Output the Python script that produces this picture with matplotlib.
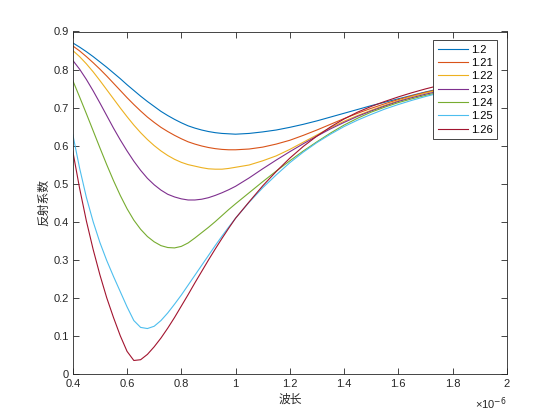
import matplotlib
matplotlib.use("Agg")
import matplotlib.pyplot as plt
from matplotlib.ticker import FuncFormatter

plt.rcParams["font.family"] = ["Liberation Sans", "Noto Sans CJK SC", "DejaVu Sans"]

# wavelength in um (axis is x 1e-6)
wavelength = [0.400, 0.425, 0.450, 0.475, 0.500, 0.525, 0.550, 0.575, 0.600, 0.625,
              0.650, 0.675, 0.700, 0.725, 0.750, 0.775, 0.800, 0.825, 0.850, 0.875,
              0.900, 0.925, 0.950, 0.975, 1.000, 1.050, 1.100, 1.150, 1.200, 1.250,
              1.300, 1.350, 1.400, 1.450, 1.500, 1.550, 1.600, 1.650, 1.700, 1.750]

labels = ["1.2", "1.21", "1.22", "1.23", "1.24", "1.25", "1.26"]

r_120 = [0.870, 0.859, 0.847, 0.834, 0.820, 0.806, 0.791, 0.776, 0.760, 0.745,
         0.730, 0.716, 0.703, 0.690, 0.679, 0.669, 0.660, 0.652, 0.646, 0.641,
         0.637, 0.634, 0.632, 0.631, 0.630, 0.632, 0.636, 0.641, 0.648, 0.656,
         0.665, 0.675, 0.685, 0.695, 0.705, 0.714, 0.723, 0.732, 0.741, 0.749]
r_121 = [0.862, 0.849, 0.834, 0.818, 0.801, 0.783, 0.764, 0.745, 0.726, 0.708,
         0.691, 0.675, 0.661, 0.648, 0.637, 0.627, 0.618, 0.610, 0.604, 0.599,
         0.595, 0.592, 0.590, 0.589, 0.589, 0.591, 0.596, 0.604, 0.614, 0.627,
         0.641, 0.656, 0.671, 0.685, 0.698, 0.710, 0.721, 0.731, 0.740, 0.748]
r_122 = [0.850, 0.834, 0.815, 0.794, 0.771, 0.747, 0.723, 0.699, 0.676, 0.654,
         0.634, 0.616, 0.600, 0.586, 0.574, 0.564, 0.556, 0.550, 0.546, 0.542,
         0.539, 0.538, 0.538, 0.540, 0.543, 0.549, 0.560, 0.573, 0.590, 0.609,
         0.628, 0.647, 0.664, 0.679, 0.693, 0.706, 0.718, 0.729, 0.738, 0.746]
r_123 = [0.824, 0.801, 0.774, 0.744, 0.712, 0.679, 0.646, 0.615, 0.586, 0.559,
         0.535, 0.514, 0.497, 0.483, 0.472, 0.465, 0.460, 0.457, 0.457, 0.459,
         0.463, 0.469, 0.476, 0.484, 0.493, 0.515, 0.539, 0.562, 0.584, 0.605,
         0.625, 0.644, 0.661, 0.677, 0.691, 0.704, 0.716, 0.726, 0.735, 0.743]
r_124 = [0.771, 0.728, 0.684, 0.639, 0.594, 0.550, 0.508, 0.469, 0.434, 0.404,
         0.380, 0.361, 0.347, 0.337, 0.332, 0.331, 0.335, 0.344, 0.357, 0.371,
         0.385, 0.400, 0.416, 0.432, 0.447, 0.476, 0.505, 0.533, 0.560, 0.586,
         0.610, 0.633, 0.654, 0.672, 0.688, 0.701, 0.713, 0.723, 0.732, 0.740]
r_125 = [0.629, 0.541, 0.464, 0.400, 0.345, 0.298, 0.256, 0.216, 0.176, 0.140,
         0.122, 0.119, 0.125, 0.140, 0.160, 0.183, 0.207, 0.233, 0.259, 0.285,
         0.311, 0.337, 0.362, 0.386, 0.409, 0.451, 0.489, 0.523, 0.555, 0.583,
         0.608, 0.630, 0.650, 0.667, 0.682, 0.696, 0.708, 0.719, 0.729, 0.738]
r_126 = [0.585, 0.488, 0.402, 0.327, 0.260, 0.200, 0.148, 0.100, 0.059, 0.035,
         0.037, 0.051, 0.071, 0.094, 0.120, 0.148, 0.178, 0.208, 0.239, 0.269,
         0.299, 0.328, 0.356, 0.383, 0.409, 0.452, 0.494, 0.532, 0.567, 0.598,
         0.625, 0.649, 0.670, 0.688, 0.703, 0.716, 0.728, 0.739, 0.749, 0.758]

series = [r_120, r_121, r_122, r_123, r_124, r_125, r_126]
colors = ["#0072BD", "#D95319", "#EDB120", "#7E2F8E", "#77AC30", "#4DBEEE", "#A2142F"]

fig = plt.figure(figsize=(5.6, 4.2), dpi=100)
fig.patch.set_facecolor("white")
ax = fig.add_axes([0.13, 0.11, 0.775, 0.815])

for r, c, lab in zip(series, colors, labels):
    ax.plot(wavelength, r, color=c, linewidth=0.8, label=lab)

ax.set_xlim(0.4, 2.0)
ax.set_ylim(0, 0.9)
ax.set_xticks([0.4, 0.6, 0.8, 1.0, 1.2, 1.4, 1.6, 1.8, 2.0])
ax.set_yticks([0, 0.1, 0.2, 0.3, 0.4, 0.5, 0.6, 0.7, 0.8, 0.9])
fmt = FuncFormatter(lambda v, p: f"{v:g}")
ax.xaxis.set_major_formatter(fmt)
ax.yaxis.set_major_formatter(fmt)
ax.tick_params(direction="in", length=4, width=0.6, top=True, right=True,
               labelsize=8, colors="#262626")
ax.tick_params(axis="x", pad=4)
ax.tick_params(axis="y", pad=3)
for s in ax.spines.values():
    s.set_linewidth(0.6)
    s.set_color("#262626")

ax.set_xlabel("波长", fontsize=8.5, color="#262626", labelpad=3)
ax.set_ylabel("反射系数", fontsize=8.5, color="#262626", labelpad=2)
ax.text(1.0, -0.063, "×10$^{-6}$", transform=ax.transAxes, ha="right", va="top",
        fontsize=8, color="#262626")

leg = ax.legend(loc="upper right", bbox_to_anchor=(0.977, 0.975), fontsize=8,
                frameon=True, fancybox=False, framealpha=1, edgecolor="#262626",
                handlelength=2.7, handletextpad=0.25, borderpad=0.4,
                labelspacing=0.3, borderaxespad=0)
leg.get_frame().set_linewidth(0.6)

fig.savefig("out.png", dpi=100)
